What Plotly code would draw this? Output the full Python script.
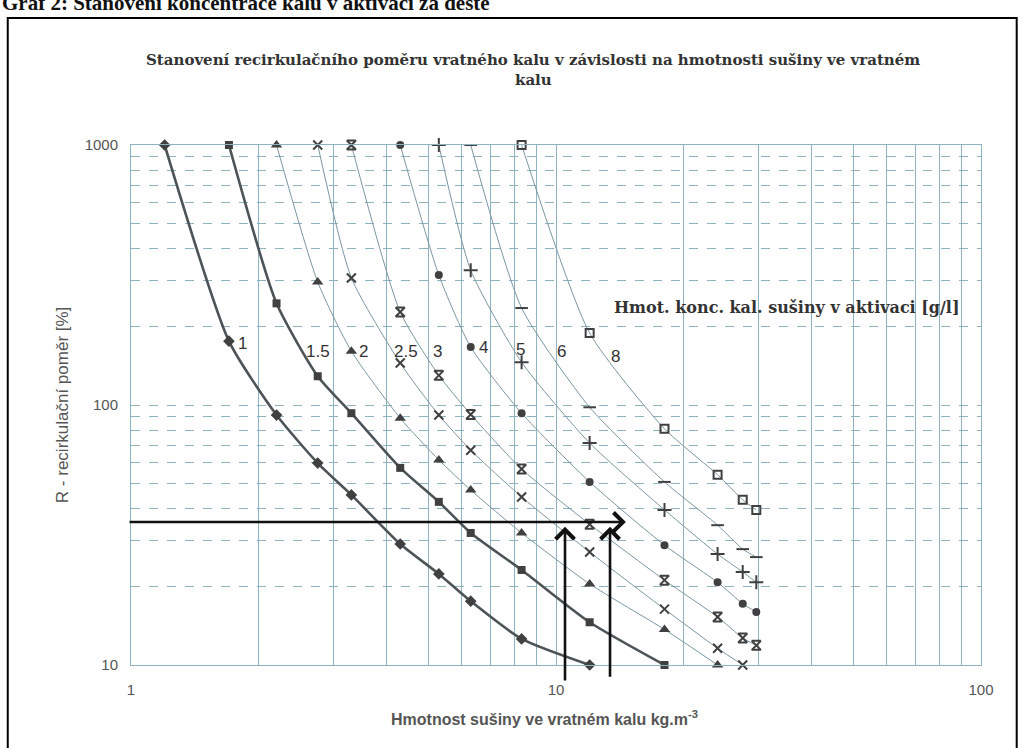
import numpy as np
import plotly.graph_objects as go

# Hmotnost sušiny ve vratném kalu (kg/m3) - společné body osy x
x_points = [1.2, 1.7, 2.2, 2.75, 3.3, 4.3, 5.3, 6.3, 8.3, 12, 18, 24, 27.5, 29.6]

# recirkulační poměr R [%] pro jednotlivé koncentrace v aktivaci
r_1 = [1000, 176, 91.5, 59.8, 45.1, 29.2, 22.4, 17.6, 12.6, 10]
r_1_5 = [1000, 246, 129, 93, 57.3, 42.4, 32.2, 23.2, 14.6, 10]
r_2 = [1000, 297, 161, 89, 61.5, 47.1, 32.2, 20.5, 13.7, 10]
r_2_5 = [1000, 308, 145, 91.5, 67, 44.3, 27.2, 16.4, 11.6, 10]
r_3 = [1000, 228, 130, 92, 56.7, 34.8, 21.2, 15.3, 12.7, 11.9]
r_4 = [1000, 316, 167, 93, 50.6, 28.9, 20.8, 17.2, 16]
r_5 = [1000, 330, 146, 71.4, 39.5, 26.7, 22.8, 20.8]
r_6 = [1000, 236, 98, 50.6, 34.5, 27.9, 26]
r_8 = [1000, 189, 81, 53.9, 43.2, 39.5]

# (název, první index na ose x, hodnoty, symbol, velikost, silná čára)
series = [
    ("1", 0, r_1, "diamond", 9, True),
    ("1.5", 1, r_1_5, "square", 8, True),
    ("2", 2, r_2, "triangle-up", 10, False),
    ("2.5", 3, r_2_5, "x-thin-open", 9, False),
    ("3", 4, r_3, "hourglass-open", 9, False),
    ("4", 5, r_4, "circle", 8, False),
    ("5", 6, r_5, "cross-thin-open", 10, False),
    ("6", 7, r_6, "line-ew-open", 9, False),
    ("8", 8, r_8, "square-open", 8, False),
]

# popisky křivek (x, R)
label_text = ["1", "1.5", "2", "2.5", "3", "4", "5", "6", "8"]
label_x = [1.83, 2.75, 3.52, 4.44, 5.25, 6.74, 8.23, 10.3, 13.8]
label_r = [173, 160, 161, 160, 160, 166, 163, 160, 154]

# ručně dokreslené šipky
arrow_r = 35.5
arrow_x_from = 0.984
arrow_x_to = 14.6
up_x = [10.5, 13.4]
up_from = [8.6, 8.9]
up_to = 34

grid = "#8fb2c1"
ink = "#404040"
sans = "Liberation Sans, Arial"
serif = "DejaVu Serif, Liberation Serif"

fig = go.Figure()

for name, start, vals, sym, size, thick in series:
    xs = x_points[start:start + len(vals)]
    fig.add_trace(go.Scatter(
        x=xs, y=vals, name=name,
        mode="lines+markers",
        line=dict(color="#4c5458" if thick else "#7a96a2",
                  width=2.6 if thick else 1, shape="spline", smoothing=0.6),
        marker=dict(symbol=sym, size=size,
                    color=ink, line=dict(color=ink, width=2 if "open" in sym else 0)),
        cliponaxis=False,
        showlegend=False,
    ))

annotations = []
for t, lx, lr in zip(label_text, label_x, label_r):
    annotations.append(dict(
        x=np.log10(lx), y=np.log10(lr), xref="x", yref="y", text=t,
        showarrow=False, font=dict(family=sans, size=17, color="#333333"),
    ))

annotations.append(dict(
    x=np.log10(arrow_x_to), y=np.log10(arrow_r), ax=np.log10(arrow_x_from), ay=np.log10(arrow_r),
    xref="x", yref="y", axref="x", ayref="y", text="", showarrow=True,
    arrowhead=4, arrowsize=1.4, arrowwidth=2.6, arrowcolor="#111111",
))
for ux, uf in zip(up_x, up_from):
    annotations.append(dict(
        x=np.log10(ux), y=np.log10(up_to), ax=np.log10(ux), ay=np.log10(uf),
        xref="x", yref="y", axref="x", ayref="y", text="", showarrow=True,
        arrowhead=4, arrowsize=1.4, arrowwidth=2.6, arrowcolor="#111111",
    ))

annotations += [
    dict(x=0.473, y=1.1635, xref="paper", yref="paper", xanchor="center", yanchor="middle",
         text="<b>Stanovení recirkulačního poměru vratného kalu v závislosti na hmotnosti sušiny ve vratném</b>",
         showarrow=False, font=dict(family=serif, size=15, color="#333333")),
    dict(x=0.473, y=1.125, xref="paper", yref="paper", xanchor="center", yanchor="middle",
         text="<b>kalu</b>", showarrow=False, font=dict(family=serif, size=15, color="#333333")),
    dict(x=0.566, y=0.688, xref="paper", yref="paper", xanchor="left", yanchor="middle",
         text="<b>Hmot. konc. kal. sušiny v aktivaci [g/l]</b>", showarrow=False,
         font=dict(family=serif, size=16, color="#333333")),
    dict(x=-0.081, y=0.5, xref="paper", yref="paper", xanchor="center", yanchor="middle",
         textangle=-90, text="R - recirkulační poměr [%]", showarrow=False,
         font=dict(family=sans, size=17, color="#555555")),
    dict(x=0.487, y=-0.101, xref="paper", yref="paper", xanchor="center", yanchor="middle",
         text="<b>Hmotnost sušiny ve vratném kalu kg.m<sup>-3</sup></b>", showarrow=False,
         font=dict(family=sans, size=16, color="#555555")),
    dict(x=-0.154, y=1.246, xref="paper", yref="paper", xanchor="left", yanchor="bottom",
         text="<b>Graf 2: Stanovení koncentrace kalu v aktivaci za deště</b>", showarrow=False,
         font=dict(family="Liberation Serif, Times New Roman", size=21, color="#111111")),
]

fig.update_layout(
    width=1024, height=748,
    margin=dict(l=131, r=43, t=145, b=83),
    paper_bgcolor="white", plot_bgcolor="white",
    annotations=annotations,
    shapes=[dict(type="rect", xref="paper", yref="paper",
                 x0=-0.145, x1=1.042, y0=-0.2, y1=1.244,
                 line=dict(color="black", width=2))],
)

fig.update_xaxes(
    type="log", range=[0, 2], tickvals=[1, 10, 100], ticktext=["1", "10", "100"],
    showgrid=True, gridcolor=grid, gridwidth=1,
    minor=dict(dtick="D1", showgrid=True, gridcolor=grid, gridwidth=1),
    showline=True, mirror=True, linecolor=grid, ticks="", ticklabelstandoff=11,
    tickfont=dict(family=sans, size=15, color="#555555"),
    zeroline=False,
)
fig.update_yaxes(
    type="log", range=[1, 3], tickvals=[10, 100, 1000], ticktext=["10", "100", "1000"],
    showgrid=True, gridcolor=grid, gridwidth=1, griddash="dash",
    minor=dict(dtick="D1", showgrid=True, gridcolor=grid, gridwidth=1, griddash="dash"),
    showline=True, mirror=True, linecolor=grid, ticks="", ticklabelstandoff=9,
    tickfont=dict(family=sans, size=15, color="#555555"),
    zeroline=False,
)

fig.write_html("out.html", config={"displayModeBar": False},
               post_script="document.body.style.margin='0px';")
